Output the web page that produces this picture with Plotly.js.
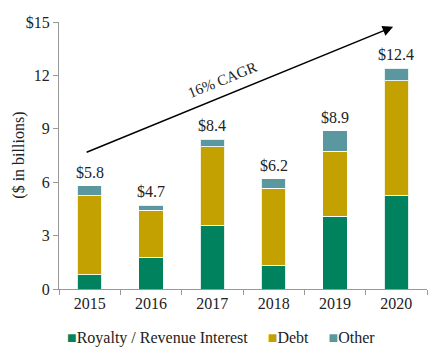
<!DOCTYPE html>
<html>
<head>
<meta charset="utf-8">
<script src="https://cdn.plot.ly/plotly-3.0.1.min.js"></script>
<style>html,body{margin:0;padding:0;background:#fff;}#chart{width:434px;height:362px;}</style>
</head>
<body>
<div id="chart"></div>
<script>
const years = ['2015', '2016', '2017', '2018', '2019', '2020'];
const royalty = [0.8, 1.75, 3.55, 1.3, 4.1, 5.25];
const debt = [4.45, 2.67, 4.45, 4.35, 3.65, 6.45];
const other = [0.55, 0.28, 0.4, 0.55, 1.15, 0.7];
const totals = [5.8, 4.7, 8.4, 6.2, 8.9, 12.4];
const totalLabels = ['$5.8', '$4.7', '$8.4', '$6.2', '$8.9', '$12.4'];
const yTicks = [0, 3, 6, 9, 12, 15];
const yTickLabels = ['0', '3', '6', '9', '12', '$15'];
const seriesNames = ['Royalty / Revenue Interest', 'Debt', 'Other'];
const seriesColors = ['#00825F', '#C2A100', '#5A979E'];

const font = 'Liberation Serif';
const line = {color: 'rgba(255,255,255,0.85)', width: 1};
const seriesValues = [royalty, debt, other];

const traces = seriesNames.map((name, k) => ({
  type: 'bar', name: name, x: years, y: seriesValues[k],
  marker: {color: seriesColors[k], line: line}
}));

const annotations = years.map((yr, i) => ({
  x: i, y: totals[i], xref: 'x', yref: 'y', text: totalLabels[i],
  showarrow: false, yanchor: 'bottom', yshift: 3,
  font: {family: font, size: 16, color: '#222'}
}));
annotations.push({
  x: 0.908, y: 0.982, xref: 'paper', yref: 'paper', axref: 'pixel', ayref: 'pixel',
  ax: -308, ay: 126,
  showarrow: true, arrowhead: 2, arrowsize: 1.4, arrowwidth: 1.5, arrowcolor: '#000', text: ''
});
annotations.push({
  x: 0.443, y: 0.783, xref: 'paper', yref: 'paper', text: '16% CAGR', showarrow: false,
  xanchor: 'center', yanchor: 'middle',
  textangle: -22, font: {family: font, size: 15, color: '#222'}
});
annotations.push({
  x: -0.111, y: 0.5, xref: 'paper', yref: 'paper', text: '($ in billions)', showarrow: false,
  xanchor: 'center', yanchor: 'middle', textangle: -90,
  font: {family: font, size: 16, color: '#222'}
});
const legendText = seriesNames.map((n, k) =>
  '<span style="color:' + seriesColors[k] + '">■</span>' + n).join('&nbsp;&nbsp;&nbsp;&nbsp;&nbsp;');
annotations.push({
  x: 0.44, y: -0.183, xref: 'paper', yref: 'paper', text: legendText, showarrow: false,
  xanchor: 'center', yanchor: 'middle', font: {family: font, size: 16, color: '#222'}
});

const layout = {
  width: 434, height: 362,
  margin: {l: 59, r: 7, t: 22, b: 73},
  paper_bgcolor: '#fff', plot_bgcolor: '#fff',
  barmode: 'stack', bargap: 0.6,
  font: {family: font, size: 16, color: '#222'},
  showlegend: false,
  xaxis: {type: 'category', range: [-0.5, 5.5], showline: true, linecolor: '#999', linewidth: 1,
    ticks: 'outside', tickson: 'boundaries', ticklen: 5, tickcolor: '#999',
    tickfont: {family: font, size: 16, color: '#222'}, showgrid: false, zeroline: false},
  yaxis: {range: [0, 15], tickvals: yTicks, ticktext: yTickLabels, showline: true, linecolor: '#999', linewidth: 1,
    ticks: 'outside', ticklen: 5, tickcolor: '#999', showgrid: false, zeroline: false,
    tickfont: {family: font, size: 16, color: '#222'}},
  annotations: annotations
};

Plotly.newPlot('chart', traces, layout, {displayModeBar: false, staticPlot: true});
</script>
</body>
</html>
